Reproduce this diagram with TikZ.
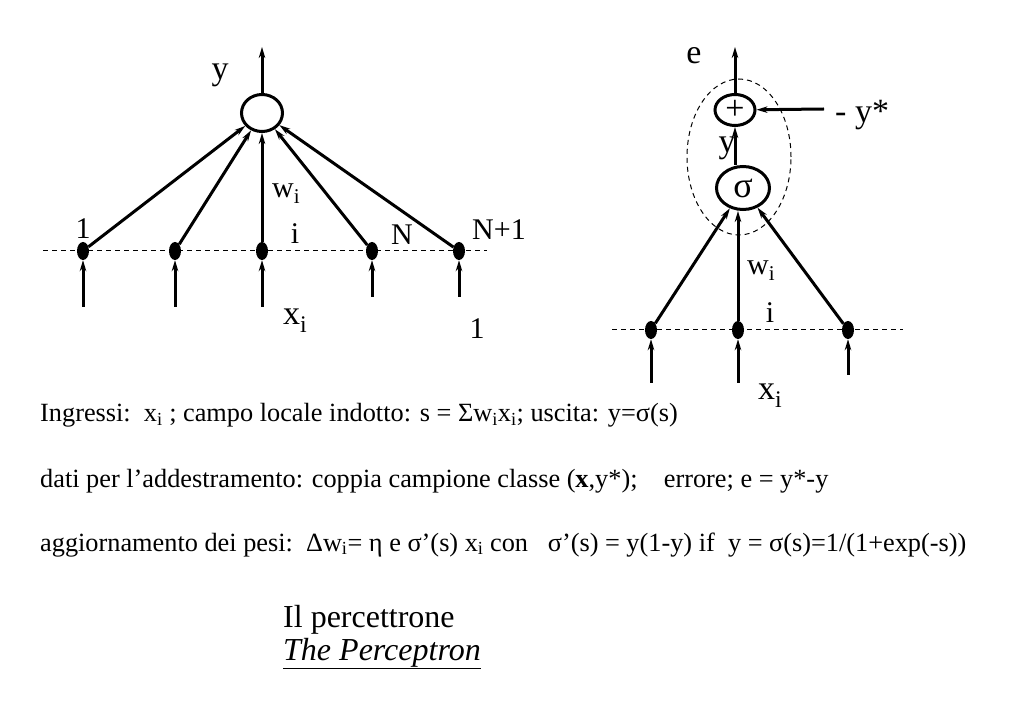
\documentclass[tikz,border=0pt]{standalone}
\usepackage{fontspec}
\setmainfont{Liberation Serif}
\usetikzlibrary{shapes.geometric,positioning,arrows.meta}
\tikzset{
  neuron/.style={ % image of a processing unit
    draw, ellipse, line width=3pt, inner sep=0pt,
    minimum width=41pt, minimum height=37pt
  },
  inputdot/.style={ % image of an input terminal
    fill, ellipse, inner sep=0pt,
    minimum width=12pt, minimum height=18pt
  },
  syn/.style={ % weighted connection
    line width=3pt, -{Stealth[length=11pt,width=6.5pt]}
  },
  rail/.style={
    line width=1pt, dash pattern=on 5pt off 4pt
  },
  lbl/.style={inner sep=0pt, font=\fontsize{30}{36}\selectfont},
  biglbl/.style={inner sep=0pt, font=\fontsize{34}{40}\selectfont},
  textline/.style={
    anchor=base west, inner sep=0pt,
    font=\fontsize{26.3}{30}\selectfont
  }
}

\begin{document}
\begin{tikzpicture}[x=1pt, y=-1pt]
  \useasboundingbox (0,0) rectangle (1023,708);

  % single perceptron with N+1 inputs
  \node[neuron] (sum) at (262,113) {};
  \coordinate (railL) at (43,251);
  \coordinate (railR) at (487,251);
  \draw[rail] (railL) -- (railR);
  \foreach \n/\x/\y in {1/83/307,2/175/307,3/262/307,4/372/297,5/459/297}{
    \node[inputdot] (d\n) at (\x,251) {};
    \coordinate (in\n) at (\x,\y);
    \draw[syn] (in\n) -- (d\n);
  }
  \foreach \n in {1,2,4,5}
    \draw[syn] (d\n) -- (sum);
  \draw[syn] (d3) -- (sum.south);
  \coordinate (yout) at (262,47);
  \draw[syn] (sum) -- (yout);
  \node[biglbl] (y_text) at (220,75) {y};
  \node[lbl, above=3pt of d1] (one_text) {1};
  \node[lbl] (i_text) at (295,234) {i};
  \node[lbl] (N_text) at (402,235) {N};
  \node[lbl] (N1_text) at (499,230) {N+1};
  \node[lbl, anchor=base west] (w_text) at (272,198) {w\textsubscript{i}};
  \node[biglbl, anchor=base west] (x_text) at (283,325) {x\textsubscript{i}};
  \node[lbl] (bias_text) at (477,329) {1};

  % sigmoid unit with error node
  \node[neuron, minimum width=40pt, minimum height=31pt,
        font=\fontsize{34}{38}\selectfont] (plus) at (735,110) {+};
  \node[neuron, minimum width=53pt, minimum height=43pt,
        font=\fontsize{36}{40}\selectfont] (sig) at (743,188) {σ};
  \node[draw, ellipse, line width=1pt, dash pattern=on 5pt off 4pt,
        minimum width=104pt, minimum height=156pt] (unit) at (739,157) {};
  \coordinate (eout) at (735,47);
  \coordinate (ystar) at (824,109);
  \draw[syn] (plus) -- (eout);
  \draw[syn] (ystar) -- (plus);
  \draw[syn] (sig.north -| plus) -- (plus);
  \coordinate (rrailL) at (612,330);
  \coordinate (rrailR) at (903,330);
  \draw[rail] (rrailL) -- (rrailR);
  \foreach \n/\x/\y in {1/651/383,2/738/383,3/848/375}{
    \node[inputdot] (r\n) at (\x,330) {};
    \coordinate (rin\n) at (\x,\y);
    \draw[syn] (rin\n) -- (r\n);
  }
  \draw[syn] (r1) -- (sig);
  \draw[syn] (r2) -- (r2 |- sig.south);
  \draw[syn] (r3) -- (sig);
  \node[biglbl] (e_text) at (694,56) {e};
  \node[biglbl, anchor=base west] (ystar_text) at (835,123) {- y*};
  \node[biglbl] (y2_text) at (727,148) {y};
  \node[lbl, anchor=base west] (w2_text) at (747,275) {w\textsubscript{i}};
  \node[lbl] (i2_text) at (770,313) {i};
  \node[biglbl, anchor=base west] (x2_text) at (758,400) {x\textsubscript{i}};

  % formulas
  \node[textline] (line_in) at (40,422)
    {Ingressi:\ \ x\textsubscript{i} ; campo locale indotto: s = Σw\textsubscript{i}x\textsubscript{i}; uscita: y=σ(s)};
  \node[textline] (line_train) at (40,487)
    {dati per l’addestramento: coppia campione classe (\textbf{x},y*);\ \ \ \ errore; e = y*-y};
  \node[textline] (line_upd) at (40,551)
    {aggiornamento dei pesi:\ \ Δw\textsubscript{i}= η e σ’(s) x\textsubscript{i} con\ \ \ σ’(s) = y(1-y) if\ \ y = σ(s)=1/(1+exp(-s))};

  % title
  \node[anchor=base west, inner sep=0pt, font=\fontsize{32}{38}\selectfont]
    (title_it) at (283,627) {Il percettrone};
  \node[anchor=base west, inner sep=0pt, font=\fontsize{32}{38}\selectfont]
    (title_en) at (283,660) {\underline{\textit{The Perceptron}}};
\end{tikzpicture}
\end{document}
